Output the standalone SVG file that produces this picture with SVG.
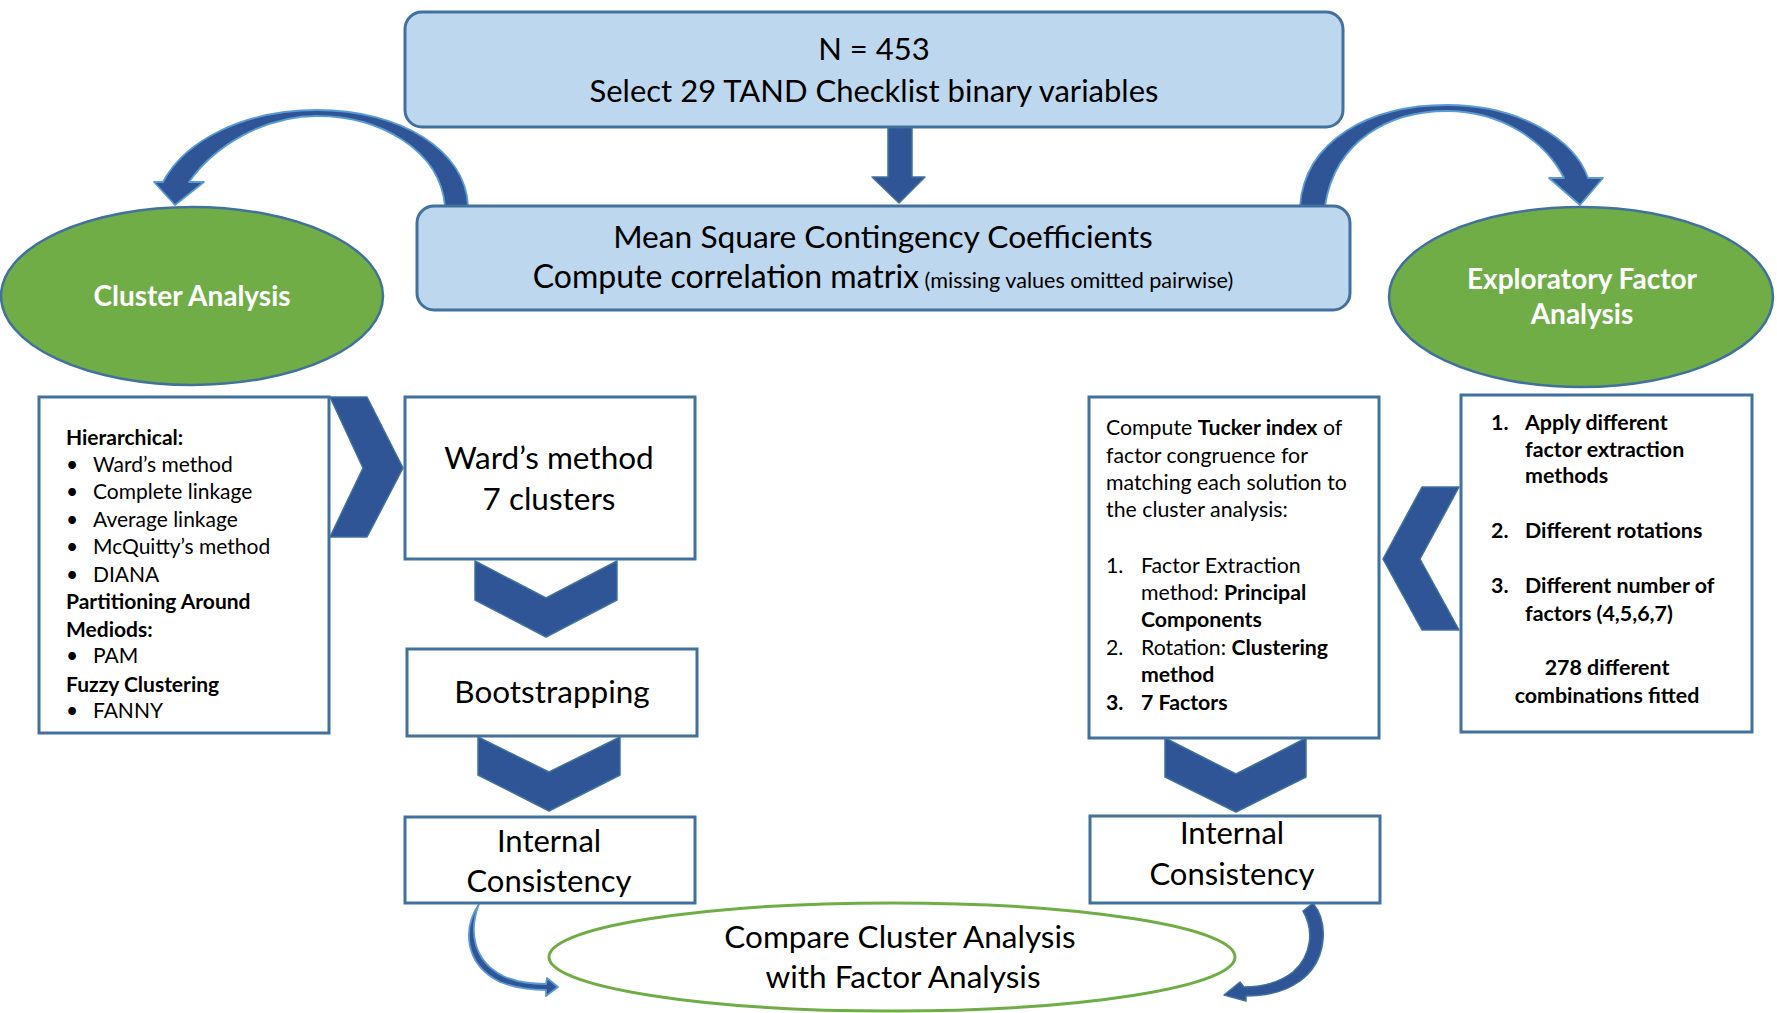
<svg xmlns="http://www.w3.org/2000/svg" width="1777" height="1013" viewBox="0 0 1777 1013">
<style>
  text { font-family: Lato, "Liberation Sans", sans-serif; fill: #000; }
  .blue { fill: #BDD7EE; stroke: #41719C; stroke-width: 3; }
  .box { fill: #FFFFFF; stroke: #41719C; stroke-width: 3; }
  .green { fill: #70AD47; stroke: #41719C; stroke-width: 2.5; }
  .cmp { fill: #FFFFFF; stroke: #70AD47; stroke-width: 3; }
  .arr { fill: #2F5597; stroke: #41719C; stroke-width: 1.5; stroke-linejoin: round; }
  .carr { fill: #2F5597; stroke: #5B9BD5; stroke-width: 1.8; stroke-linejoin: round; }
  .top { font-size: 31px; }
  .mid { font-size: 31.7px; }
  .big { font-size: 31.5px; }
  .ic { font-size: 31px; }
  .wt { fill: #FFFFFF; font-weight: bold; font-size: 28px; }
  .sm { font-size: 21px; }
  .tk { font-size: 21.3px; }
  .fm { font-size: 21.4px; font-weight: bold; }
  .b { font-weight: bold; }
  .c { text-anchor: middle; }
</style>

<g id="connectors">
  <!-- top down arrow -->
  <polygon class="arr" points="888,125 912,125 912,177 925,177 899,203 872,177 888,177"/>
  <!-- curved arrow to Cluster Analysis -->
  <path class="carr" d="M 468 206 C 466 150 400 110 317 110 C 245 110 185 140 163 182 L 154 182 L 175 205 L 204 182 L 189 182 C 215 145 265 116 317 116 C 380 116 440 150 445 206 Z"/>
  <!-- curved arrow to Exploratory Factor Analysis -->
  <path class="carr" d="M 1300 206 C 1305 140 1370 105 1447 105 C 1520 105 1575 140 1588 178 L 1603 178 L 1580 205 L 1549 178 L 1564 178 C 1545 140 1500 111 1447 111 C 1390 111 1335 140 1325 206 Z"/>
  <!-- chevron right: list -> Ward -->
  <polygon class="arr" points="330,397 367,397 403,468 367,537 330,537 363,468"/>
  <!-- chevron down: Ward -> Bootstrapping -->
  <polygon class="arr" points="475,561 546,598 617,561 617,600 546,637 475,600"/>
  <!-- chevron down: Bootstrapping -> Internal -->
  <polygon class="arr" points="478,737 549,772 620,737 620,775 549,811 478,775"/>
  <!-- chevron left: factor list -> Tucker -->
  <polygon class="arr" points="1459,487 1422,487 1383,559 1422,630 1459,630 1420,559"/>
  <!-- chevron down: Tucker -> Internal -->
  <polygon class="arr" points="1165,738 1236,774 1306,738 1306,777 1236,812 1165,777"/>
  <!-- small curved arrow left -->
  <path class="carr" d="M 479 904 C 464 926 462 963 500 982 C 515 988 530 990 546 990 L 546 996 L 558 987 L 547 978 L 546 984 C 530 984 516 982 503 976 C 472 960 469 930 479 904 Z"/>
  <!-- small curved arrow right -->
  <path class="arr" d="M 1303 911 L 1313 903 C 1330 925 1326 962 1300 981 C 1285 992 1265 996 1246 996 L 1246 1001 L 1224 995 L 1240 982 L 1244 987 C 1262 987 1280 982 1293 972 C 1312 955 1314 930 1303 911 Z"/>
</g>

<g id="node-top">
  <rect class="blue" x="405" y="12" width="938" height="115" rx="17"/>
  <text class="top c" x="874" y="60">N = 453</text>
  <text class="top c" x="874" y="102">Select 29 TAND Checklist binary variables</text>
</g>

<g id="node-corr">
  <rect class="blue" x="417" y="206" width="933" height="104" rx="17"/>
  <text class="mid c" x="883" y="248">Mean Square Contingency Coefficients</text>
  <text class="c" x="883" y="288"><tspan font-size="32">Compute correlation matrix</tspan><tspan font-size="21.6">  (missing values omitted pairwise)</tspan></text>
</g>

<g id="node-cluster">
  <ellipse class="green" cx="192" cy="296" rx="191" ry="89"/>
  <text class="wt c" x="192" y="306">Cluster Analysis</text>
</g>

<g id="node-efa">
  <ellipse class="green" cx="1581" cy="297" rx="192" ry="90"/>
  <text class="wt c" x="1582" y="289">Exploratory Factor</text>
  <text class="wt c" x="1582" y="324">Analysis</text>
</g>

<g id="node-methods">
  <rect class="box" x="39" y="397" width="290" height="336"/>
  <text class="sm b" x="66" y="445">Hierarchical:</text>
  <text class="sm" x="66" y="472">•</text><text class="sm" x="93" y="472">Ward’s method</text>
  <text class="sm" x="66" y="499">•</text><text class="sm" x="93" y="499">Complete linkage</text>
  <text class="sm" x="66" y="527">•</text><text class="sm" x="93" y="527">Average linkage</text>
  <text class="sm" x="66" y="554">•</text><text class="sm" x="93" y="554">McQuitty’s method</text>
  <text class="sm" x="66" y="582">•</text><text class="sm" x="93" y="582">DIANA</text>
  <text class="sm b" x="66" y="609">Partitioning Around</text>
  <text class="sm b" x="66" y="637">Mediods:</text>
  <text class="sm" x="66" y="663">•</text><text class="sm" x="93" y="663">PAM</text>
  <text class="sm b" x="66" y="692">Fuzzy Clustering</text>
  <text class="sm" x="66" y="718">•</text><text class="sm" x="93" y="718">FANNY</text>
</g>

<g id="node-ward">
  <rect class="box" x="405" y="397" width="290" height="162"/>
  <text class="big c" x="549" y="469">Ward’s method</text>
  <text class="big c" x="549" y="510">7 clusters</text>
</g>

<g id="node-boot">
  <rect class="box" x="407" y="649" width="290" height="87"/>
  <text class="big c" x="552" y="703">Bootstrapping</text>
</g>

<g id="node-ic-left">
  <rect class="box" x="405" y="817" width="290" height="86"/>
  <text class="ic c" x="549" y="852">Internal</text>
  <text class="ic c" x="549" y="892">Consistency</text>
</g>

<g id="node-tucker">
  <rect class="box" x="1089" y="397" width="290" height="341"/>
  <text class="tk" x="1106" y="435">Compute <tspan class="b">Tucker index</tspan> of</text>
  <text class="tk" x="1106" y="463">factor congruence for</text>
  <text class="tk" x="1106" y="490">matching each solution to</text>
  <text class="tk" x="1106" y="517">the cluster analysis:</text>
  <text class="tk" x="1106" y="573">1.</text><text class="tk" x="1141" y="573">Factor Extraction</text>
  <text class="tk" x="1141" y="600">method: <tspan class="b">Principal</tspan></text>
  <text class="tk b" x="1141" y="627">Components</text>
  <text class="tk" x="1106" y="655">2.</text><text class="tk" x="1141" y="655">Rotation: <tspan class="b">Clustering</tspan></text>
  <text class="tk b" x="1141" y="682">method</text>
  <text class="tk b" x="1106" y="710">3.</text><text class="tk b" x="1141" y="710">7 Factors</text>
</g>

<g id="node-factor-methods">
  <rect class="box" x="1461" y="395" width="291" height="337"/>
  <text class="fm" x="1491" y="430">1.</text><text class="fm" x="1525" y="430">Apply different</text>
  <text class="fm" x="1525" y="457">factor extraction</text>
  <text class="fm" x="1525" y="483">methods</text>
  <text class="fm" x="1491" y="538">2.</text><text class="fm" x="1525" y="538">Different rotations</text>
  <text class="fm" x="1491" y="593">3.</text><text class="fm" x="1525" y="593">Different number of</text>
  <text class="fm" x="1525" y="621">factors (4,5,6,7)</text>
  <text class="fm c" x="1607" y="675">278 different</text>
  <text class="fm c" x="1607" y="703">combinations fitted</text>
</g>

<g id="node-ic-right">
  <rect class="box" x="1090" y="816" width="290" height="87"/>
  <text class="ic c" x="1232" y="844">Internal</text>
  <text class="ic c" x="1232" y="885">Consistency</text>
</g>

<g id="node-compare">
  <ellipse class="cmp" cx="892" cy="957" rx="343" ry="54"/>
  <text class="big c" x="900" y="948">Compare Cluster Analysis</text>
  <text class="big c" x="903" y="988">with Factor Analysis</text>
</g>
</svg>
